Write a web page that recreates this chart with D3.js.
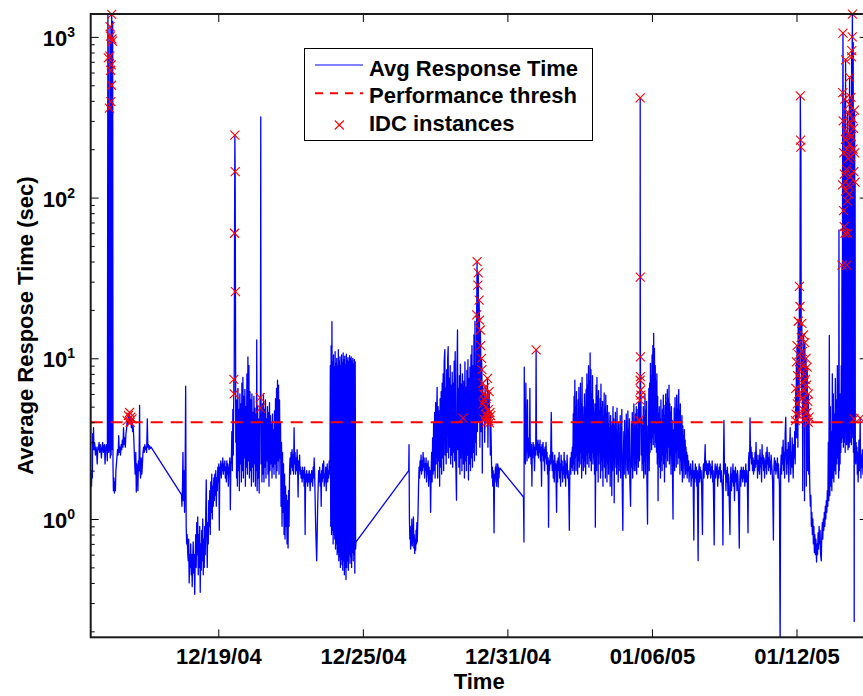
<!DOCTYPE html>
<html>
<head>
<meta charset="utf-8">
<script src="https://cdn.jsdelivr.net/npm/d3@7"></script>
<style>
  html, body { margin: 0; padding: 0; background: #fff; }
  svg { display: block; }
  text { font-family: "Liberation Sans", Arial, Helvetica, sans-serif; font-weight: bold; fill: #000; }
</style>
</head>
<body>
<svg id="chart" width="863" height="696"></svg>
<script>
// Time is stored as hours since 2004-12-13 00:00, response times in seconds.
const startDate = new Date(2004, 11, 13, 0, 0, 0);
const xDomainHours = [16.89, 790.93];
const yDomain = [0.1836, 1388];
const threshold = 4;
const xTickDates = ["2004-12-19", "2004-12-25", "2004-12-31", "2005-01-06", "2005-01-12"];
const xTickLabels = ["12/19/04", "12/25/04", "12/31/04", "01/06/05", "01/12/05"];
const yTickValues = [1, 10, 100, 1000];
const yTickExponents = ["0", "1", "2", "3"];
const legendLabels = ["Avg Response Time", "Performance thresh", "IDC instances"];
const xAxisTitle = "Time";
const yAxisTitle = "Average Respose Time (sec)";

// [hour, seconds]
const avgResponse = [
  [16.9,1.7],[17.3,1.9],[17.7,1.6],[18.1,2.0],[18.5,1.8],[18.9,3.4],[19.3,2.8],[19.7,3.7],[20.1,2.7],[20.6,3.0],
  [21.0,2.9],[21.6,2.5],[22.2,2.8],[22.8,2.6],[23.4,2.2],[24.0,2.8],[24.6,2.7],[25.2,3.0],[25.8,2.6],[26.4,2.9],
  [27.0,2.7],[27.6,2.4],[28.2,2.8],[28.8,3.0],[29.4,2.6],[30.0,2.8],[30.6,2.9],[31.2,2.2],[31.8,2.7],[32.4,2.9],
  [33.0,2.7],[33.5,2.3],[34.0,1380],[34.4,740],[34.8,2.6],[35.2,2.7],[35.6,360],[35.8,2.8],[36.0,760],[36.2,1160],
  [36.4,2.4],[36.6,1010],[36.8,620],[37.0,395],[37.2,2.5],[37.4,670],[37.6,500],[37.8,1380],[38.0,970],[38.2,2.7],
  [38.5,940],[38.8,1250],[39.1,2.2],[39.5,1.5],[40.0,1.8],[40.5,1.45],[41.0,1.7],[41.5,1.5],[42.0,2.0],[43.0,2.4],
  [43.6,2.7],[44.2,2.5],[44.8,3.3],[45.4,2.6],[46.0,2.8],[46.6,2.5],[47.2,2.9],[47.8,2.7],[48.4,3.1],[49.0,2.8],
  [49.6,3.7],[50.2,2.9],[50.8,3.2],[51.4,2.8],[52.0,3.4],[52.6,3.6],[53.2,4.1],[53.8,3.8],[54.4,4.4],[55.0,3.9],
  [55.6,4.6],[56.2,4.0],[56.8,4.3],[57.4,3.7],[58.0,4.2],[58.6,3.5],[59.2,3.8],[59.8,3.2],[60.5,2.4],[61.2,1.9],
  [61.8,2.6],[62.3,1.47],[62.8,2.2],[63.4,1.9],[63.9,1.5],[64.4,2.3],[65.0,2.0],[65.6,5.1],[66.0,2.1],[66.6,1.8],
  [67.2,2.4],[67.8,1.9],[68.4,2.2],[69.0,2.6],[69.6,2.8],[70.2,2.6],[70.8,2.9],[71.4,2.7],[72.0,2.8],[72.6,2.6],
  [73.3,4.2],[73.8,2.8],[74.4,2.9],[75.0,2.7],[75.6,2.85],[76.2,2.75],[77.0,2.8],
  [107.3,1.42],[107.8,1.2],[108.3,1.6],[108.8,2.6],[109.3,1.3],[109.8,2.0],[110.4,1.1],[111.0,2.2],[111.5,6.7],[112.0,0.9],
  [112.5,0.7],[113.0,0.8],[113.5,0.62],[114.0,0.55],[114.5,0.75],[115.0,0.4],[115.5,0.6],[116.0,0.5],[116.5,0.7],[117.0,0.45],
  [117.5,0.6],[118.0,0.38],[118.5,0.55],[119.0,0.72],[119.5,0.46],[120.0,0.6],[120.5,0.34],[121.0,0.55],[121.5,0.8],[122.0,0.5],
  [122.5,0.95],[123.0,0.6],[123.5,1.03],[124.0,0.45],[124.5,0.8],[125.0,0.5],[125.5,0.9],[126.0,0.35],[126.5,0.7],[127.0,0.48],
  [127.5,0.85],[128.0,0.55],[128.5,1.0],[129.0,0.45],[129.5,0.75],[130.0,0.5],[130.5,0.9],[131.0,0.6],[131.5,1.1],[132.0,1.75],
  [132.5,0.8],[133.0,0.5],[133.5,0.95],[134.0,0.7],[134.5,1.3],[135.0,0.9],[135.5,1.5],[136.0,0.8],[136.5,1.7],[137.0,1.1],
  [137.5,1.9],[138.0,1.0],[138.5,1.6],[139.0,1.2],[139.5,1.8],[140.0,1.3],[140.5,1.9],[141.0,1.4],[141.5,2.0],[142.0,1.2],
  [142.5,1.8],[143.0,1.5],[143.5,2.1],[144.0,1.7],[144.5,2.2],[145.0,0.85],[145.5,2.1],[146.0,1.9],[146.5,2.3],[147.0,1.8],
  [147.5,2.2],[148.0,2.0],[148.5,2.4],[149.0,1.9],[149.5,2.2],[150.0,2.0],[150.5,2.3],[151.0,1.8],[151.5,2.1],[152.0,1.7],
  [152.5,2.3],[153.0,1.9],[153.5,2.2],[154.0,1.6],[154.5,2.1],[155.0,2.0],[155.5,2.4],[156.0,1.14],[156.5,2.2],
  [157.0,2.3],[157.5,3.5],[158.0,2.0],[158.5,4.8],[159.0,2.5],[159.5,7.4],[159.8,6.0],[160.2,60],[160.5,245],[160.8,145],
  [161.1,26],[161.4,3.0],[161.8,5.5],[162.2,1.8],
  [162.6,5.5],[163.0,1.6],[163.5,6.5],[164.0,2.0],[164.5,4.8],[165.0,1.5],[165.5,6.0],[166.0,2.2],[166.5,5.2],[167.0,1.7],
  [167.5,7.0],[168.0,2.0],[168.5,7.6],[169.0,1.8],[169.5,5.8],[170.0,2.4],[170.5,6.4],[171.0,1.6],[171.5,5.0],[172.0,2.1],
  [172.5,8.0],[173.0,1.9],[173.5,10.2],[174.0,2.3],[174.5,9.0],[175.0,1.8],[175.5,6.2],[176.0,2.0],[176.5,5.5],[177.0,1.6],
  [177.5,6.0],[178.0,2.1],[178.5,4.6],[179.0,1.7],[179.5,5.8],[180.0,2.2],[180.5,4.9],[181.0,1.6],[181.5,4.5],[182.0,2.0],
  [182.3,13],[182.7,1.5],[183.2,5.0],[183.7,1.8],[184.2,4.2],[184.7,1.45],[185.2,3.8],[185.7,5.7],[186.0,4.9],[186.3,318],
  [186.6,2.2],[187.0,4.5],[187.5,1.7],[188.0,5.2],[188.5,1.9],[189.0,6.0],[189.5,1.7],[190.0,4.8],[190.5,2.1],[191.0,5.5],
  [191.5,1.8],[192.0,4.2],[192.5,2.3],[193.0,5.0],[193.5,1.9],[194.0,4.6],[194.5,1.6],[195.0,5.3],[195.5,2.0],[196.0,4.4],
  [196.5,2.2],[197.0,3.9],[197.5,1.8],[198.0,4.5],[198.5,2.1],[199.0,3.6],[199.5,1.9],[200.0,4.7],[200.5,2.2],[201.0,5.6],
  [201.5,1.8],[202.0,6.5],[202.5,2.0],[203.0,7.3],[203.5,2.3],[204.0,6.8],[204.5,1.9],[205.0,5.5],[205.5,2.4],[206.0,4.0],
  [206.5,1.2],[207.0,3.0],[207.5,0.9],[208.0,2.6],[208.5,1.1],[209.0,2.2],[209.5,0.8],[210.0,1.9],[210.5,0.75],[211.0,1.6],
  [211.5,0.9],[212.0,1.4],[212.5,0.7],[213.0,1.3],[213.5,0.66],[214.0,1.5],[214.5,0.9],[215.0,2.0],[215.5,2.4],[216.0,1.9],
  [216.5,2.6],[217.0,2.1],[217.5,2.7],[218.0,2.0],[218.5,2.5],[219.0,1.9],[219.5,3.7],[220.0,2.2],[220.5,2.6],[221.0,1.9],
  [221.5,2.4],[222.0,2.0],[222.5,2.7],[223.0,2.1],[223.5,1.37],[224.0,2.3],[224.5,2.0],[225.0,2.5],[225.5,1.9],[226.0,2.1],
  [226.5,1.8],[227.0,2.0],[227.5,1.7],[228.0,2.1],[228.5,1.8],[229.0,2.0],[229.5,1.6],[230.0,2.1],[230.5,0.8],[231.0,1.9],
  [231.5,1.7],[232.0,2.0],[232.5,1.8],[233.0,1.6],[233.5,1.9],[234.0,1.7],[234.5,2.0],[235.0,1.8],[235.5,1.5],[236.0,1.9],
  [236.5,1.7],[237.0,2.0],[237.5,1.8],[238.0,1.6],[238.5,2.1],[239.0,1.8],[239.5,2.4],[240.0,1.9],[240.5,1.3],[241.0,0.9],
  [241.5,0.7],[242.0,0.55],[242.5,0.8],[243.0,1.2],[243.5,1.6],[244.0,2.0],[244.5,1.7],[245.0,2.1],[245.5,1.6],[246.0,1.9],
  [246.5,1.2],[247.0,2.0],[247.5,1.7],[248.0,2.2],[248.5,1.8],[249.0,2.3],[249.5,1.6],[250.0,1.9],[250.5,1.7],[251.0,2.1],
  [251.5,1.5],[252.0,1.9],[252.5,2.2],[253.0,1.7],[253.5,2.0],[254.0,1.8],[254.5,2.3],[255.0,1.9],
  [255.2,2.0],[255.6,9.0],[256.0,0.9],[256.4,12],[256.8,0.8],[257.2,16.9],[257.6,0.85],[258.0,9.5],[258.4,0.7],[258.8,10.5],
  [259.2,0.8],[259.6,8.8],[260.0,0.75],[260.4,11],[260.8,0.65],[261.2,9.3],[261.6,0.7],[262.0,10],[262.4,0.6],[262.8,8.9],
  [263.2,0.62],[263.6,11.3],[264.0,0.55],[264.4,9.6],[264.8,0.58],[265.2,10.2],[265.6,0.5],[266.0,9.0],[266.4,0.56],[266.8,10.5],
  [267.2,0.52],[267.6,9.4],[268.0,0.48],[268.4,10.8],[268.8,0.55],[269.2,9.8],[269.6,0.45],[270.0,10.3],[270.4,0.5],[270.8,9.1],
  [271.2,0.42],[271.6,10.6],[272.0,0.5],[272.4,9.7],[272.8,0.55],[273.2,10.1],[273.6,0.48],[274.0,9.5],[274.4,0.6],[274.8,10.4],
  [275.2,0.53],[275.6,9.9],[276.0,0.58],[276.4,10.2],[276.8,0.5],[277.2,9.6],[277.6,0.62],[278.0,10],[278.4,0.55],[278.8,9.2],
  [279.2,0.6],[279.6,9.8],[280.0,0.46],[280.4,9.5],[280.8,0.65],[281.2,0.72],
  [333.7,2.0],[334.0,2.9],[334.4,1.0],[334.8,0.75],[335.2,0.9],[335.6,0.65],[336.0,0.85],[336.4,0.7],[336.8,1.0],[337.2,0.68],
  [337.6,0.9],[338.0,0.72],[338.4,1.03],[338.8,0.66],[339.2,0.8],[339.7,0.61],[340.2,0.75],[340.6,0.64],[341.0,0.85],[341.4,0.7],
  [341.8,0.95],[342.2,0.72],[342.6,0.9],[343.0,1.1],[343.5,1.6],[344.0,2.1],[344.5,1.8],[345.0,2.3],[345.5,2.0],[346.0,2.5],
  [346.5,1.9],[347.0,2.3],[347.5,2.0],[348.0,2.6],[348.5,2.1],[349.0,2.4],[349.5,1.8],[350.0,2.2],[350.5,2.0],[351.0,2.4],
  [351.5,1.7],[352.0,2.2],[352.5,1.9],[353.0,2.3],[353.5,1.6],[354.0,2.1],[354.5,1.8],[355.0,2.0],[355.5,1.1],[356.0,1.9],
  [356.5,2.6],[357.0,1.7],[357.5,3.2],[358.0,1.9],[358.5,4.0],[359.0,2.0],[359.5,4.6],[360.0,1.8],[360.5,5.3],[361.0,2.2],
  [361.5,4.4],[362.0,6.6],[362.5,1.8],[363.0,5.0],[363.5,2.3],[364.0,4.7],[364.5,1.6],[365.0,5.6],[365.5,2.1],[366.0,6.2],
  [366.5,1.9],[367.0,7.0],[367.5,2.4],[368.0,8.0],[368.5,2.0],[369.0,9.5],[369.7,11.3],[370.0,2.5],[370.5,6.5],[371.0,2.2],
  [371.5,8.5],[372.0,2.6],[372.5,10],[373.0,11.8],[373.5,2.4],[374.0,7.5],[374.5,2.8],[375.0,9.0],[375.5,2.2],[376.0,6.8],
  [376.5,2.5],[377.0,8.2],[377.5,2.1],[378.0,7.0],[378.5,2.6],[379.0,9.6],[379.5,2.3],[380.0,11],[380.5,2.4],[381.3,1.31],
  [381.8,8.5],[382.3,15],[382.7,2.7],[383.2,6.5],[383.7,2.1],[384.2,7.8],[384.7,1.9],[385.2,9.2],[385.7,2.4],[386.2,6.9],
  [386.7,2.0],[387.2,8.0],[387.7,4.25],[388.2,2.2],[388.7,7.2],[389.2,1.8],[389.7,9.5],[390.2,2.3],[390.7,6.6],[391.2,2.0],
  [391.7,8.4],[392.2,2.5],[392.7,9.8],[393.2,1.75],[393.7,7.5],[394.2,2.2],[394.7,8.8],[395.2,2.0],[395.7,10.5],[396.2,2.4],
  [396.7,12],[397.2,2.1],[397.7,9.0],[398.2,2.6],[398.7,14],[399.2,2.3],[399.7,17],
  [400.2,3.0],[400.6,9],[401.0,2.5],[401.4,18.6],[401.8,40],[402.2,3.5],[402.6,28.5],[403.0,34],[403.4,4.0],[403.8,23],
  [404.2,17.3],[404.6,2.8],[405.0,15],[405.4,12],[405.8,3.5],[406.2,10],[406.6,8.5],[407.0,1.93],[407.4,7],[407.8,5.2],
  [408.2,6.0],[408.6,4.2],[409.0,5.5],[409.4,3.0],[409.8,6.6],[410.2,4.5],[410.6,5.0],[411.0,4.0],[411.4,5.8],[411.8,4.3],
  [412.2,7.5],[412.6,2.8],[413.0,4.8],[413.4,4.1],[413.8,6.2],[414.2,3.96],[414.6,4.6],[415.0,2.5],[415.4,4.4],[415.8,3.1],
  [416.2,2.2],[416.6,1.8],[417.0,2.1],[417.4,1.6],[417.8,2.0],[418.2,1.7],[418.7,0.82],[419.2,1.9],[419.6,1.7],[420.0,2.1],
  [420.4,1.8],[420.8,2.2],[421.2,1.6],[421.6,2.0],[422.0,1.9],[422.4,2.2],[422.8,1.58],[423.2,2.1],[423.6,1.8],[424.0,2.0],
  [424.7,2.07],
  [448.0,1.37],[448.5,0.72],[448.8,8.8],[449.2,2.5],[449.6,3.0],[450.0,2.2],[450.4,7.0],[450.8,2.6],[451.2,3.1],[451.6,2.3],
  [452.0,5.5],[452.4,2.8],[452.8,3.0],[453.2,2.4],[453.6,3.2],[454.0,2.5],[454.4,6.5],[454.8,2.45],[455.2,3.0],[455.6,2.2],
  [456.0,2.9],[456.4,1.6],[456.8,2.7],[457.2,2.4],[457.6,3.0],[458.0,2.6],[458.4,2.9],[459.0,2.0],[459.6,2.8],[460.2,2.5],
  [460.6,11.3],[461.0,2.7],[461.5,3.0],[462.0,2.5],[462.5,3.1],[463.0,2.4],[463.5,2.9],[464.0,2.6],[464.5,3.1],[465.0,2.3],
  [465.5,2.8],[466.0,1.6],[466.5,2.9],[467.0,2.5],[467.5,3.0],[468.0,2.3],[468.5,2.7],[469.0,2.0],[469.5,2.8],[470.0,2.4],
  [470.5,3.0],[471.0,2.2],[471.5,2.6],[472.0,1.9],[472.5,2.4],[473.0,0.89],[473.5,2.3],[474.0,2.0],[474.5,2.5],[475.0,2.2],
  [475.7,4.6],[476.2,2.4],[476.7,2.0],[477.2,2.6],[477.7,1.8],[478.2,2.3],[478.7,1.7],[479.2,2.5],[479.7,2.0],[480.2,2.2],
  [481.0,1.1],[481.5,2.3],[482.0,1.7],[482.5,2.4],[483.0,2.0],[483.5,2.6],[484.0,1.8],[484.5,2.2],[485.0,1.6],[485.5,2.5],
  [486.0,2.0],[486.5,2.3],[487.0,1.7],[487.5,2.1],[488.0,1.9],[488.5,2.6],[489.0,1.8],[489.5,2.3],[490.0,1.6],[490.5,2.2],
  [491.0,1.9],[491.5,2.5],[492.0,1.8],[492.5,2.0],[493.0,1.7],[493.7,0.85],[494.2,2.0],[494.7,2.4],[495.2,1.9],[495.7,2.6],
  [496.2,2.1],[496.7,2.8],
  [497.2,2.0],[497.6,4.5],[498.0,2.2],[498.4,5.8],[498.8,1.9],[499.2,7.3],[499.6,2.4],[500.0,5.0],[500.4,2.0],[500.8,6.2],
  [501.2,2.5],[501.6,4.2],[502.0,1.9],[502.4,5.5],[502.8,2.3],[503.2,6.6],[503.6,2.1],[504.0,4.8],[504.4,2.6],[504.8,7.0],
  [505.2,2.2],[505.6,5.2],[506.0,1.8],[506.4,7.6],[506.8,2.4],[507.2,5.0],[507.6,2.0],[508.0,4.4],[508.4,2.3],[508.8,6.0],
  [509.2,2.1],[509.6,4.9],[510.0,1.9],[510.4,6.4],[510.8,2.5],[511.2,8.0],[511.6,2.2],[512.0,6.8],[512.4,2.6],[512.8,9.0],
  [513.2,2.1],[513.6,7.2],[514.0,2.4],[514.4,10.8],[514.8,2.3],[515.2,8.5],[515.6,2.0],[516.0,6.0],[516.4,2.6],[516.8,7.8],
  [517.2,2.2],[517.6,5.5],[518.0,2.4],[518.4,4.6],[518.8,1.9],[519.2,5.2],[519.6,0.89],[520.0,2.3],[520.4,6.8],[520.8,2.0],
  [521.2,7.6],[521.6,2.5],[522.0,5.8],[522.4,1.7],[522.8,6.3],[523.2,2.2],[523.6,4.7],[524.0,2.6],[524.4,5.6],[524.8,1.8],
  [525.2,6.9],[525.6,2.3],[526.0,4.9],[526.4,2.0],[526.8,5.4],[527.2,1.6],[527.6,4.3],[528.0,2.4],[528.4,6.1],[528.8,2.1],
  [529.2,4.8],[529.6,1.8],[530.0,5.9],[530.4,2.3],[530.8,4.5],[531.2,1.7],[531.6,5.1],[532.0,2.2],[532.4,3.9],[532.8,1.9],
  [533.2,4.6],[533.6,2.5],[534.0,3.7],[534.4,1.6],[534.8,4.4],[535.2,2.1],[535.6,3.8],[536.0,1.4],[536.4,4.0],
  [536.8,2.0],[537.2,5.0],[537.6,2.3],[538.0,4.2],[538.4,1.26],[538.8,3.8],[539.2,2.1],[539.6,4.6],[540.0,2.4],[540.4,3.6],
  [540.8,1.9],[541.2,4.9],[541.6,2.2],[542.0,3.4],[542.4,1.7],[542.8,4.0],[543.2,2.5],[543.6,3.2],[544.0,2.0],[544.4,4.4],
  [544.8,1.8],[545.2,3.7],[545.6,2.3],[546.0,4.8],[546.4,1.6],[547.0,0.85],[547.5,2.4],[548.0,3.5],[548.4,1.9],[548.8,4.1],
  [549.2,2.2],[549.6,3.3],[550.0,1.8],[550.4,4.5],[550.8,2.6],[551.2,3.0],[551.6,2.0],[552.0,4.7],[552.4,1.9],[552.8,3.6],
  [553.2,2.3],[553.6,4.2],[554.0,1.7],[554.7,1.2],[555.2,2.4],[555.6,3.9],[556.0,2.1],[556.4,4.6],[556.8,1.8],[557.2,3.4],
  [557.6,2.5],[558.0,5.2],[558.4,2.0],[558.8,4.0],
  [559.2,2.2],[559.6,4.5],[560.0,2.0],[560.4,5.0],[560.8,1.9],[561.2,3.6],[561.6,2.4],[562.0,4.8],[562.4,2.1],[562.8,5.3],
  [563.2,4.13],[563.6,2.3],[564.0,5.5],[564.2,7.3],[564.3,417],[564.4,32],[564.5,10.2],[564.6,7.7],[564.8,6.35],[565.0,5.9],
  [565.4,2.5],[565.8,4.2],[566.2,2.0],[566.6,3.8],
  [567.0,2.2],[567.4,5.0],[567.8,1.8],[568.2,4.4],[568.6,2.3],[569.0,6.0],[569.4,1.9],[569.8,4.7],[570.2,2.5],[570.6,5.4],
  [571.0,1.7],[571.6,0.93],[572.1,3.8],[572.5,2.4],[572.9,6.5],[573.3,2.0],[573.7,7.0],[574.1,2.6],[574.5,9.3],[574.9,3.0],
  [575.3,7.8],[575.7,2.7],[576.1,10.5],[576.5,3.2],[576.9,12],[577.3,2.9],[577.7,14.3],[578.1,3.4],[578.5,11.5],[578.9,2.8],
  [579.3,9.0],[579.7,3.0],[580.1,7.2],[580.5,2.6],[580.9,8.0],[581.3,2.2],[581.7,5.8],[582.1,1.3],[582.5,4.5],[582.9,2.4],
  [583.3,5.0],[583.7,2.1],[584.1,4.2],[584.5,1.8],[584.9,5.5],[585.3,2.3],[585.7,3.9],[586.1,2.0],[586.5,4.8],[586.9,2.5],
  [587.3,5.9],[587.7,2.2],[588.1,4.4],[588.5,1.7],[588.9,5.1],[589.3,2.4],[589.7,6.0],[590.1,2.1],[590.5,5.3],[590.9,2.6],
  [591.3,6.4],[591.7,2.3],[592.1,5.6],[592.5,2.8],[593.0,6.8],[593.4,2.2],[593.8,5.2],[594.2,2.5],[594.6,4.6],[595.0,1.9],
  [595.4,5.0],[595.8,2.4],[596.2,4.1],[596.6,1.6],[597.0,1.0],[597.4,3.6],[597.8,2.3],[598.2,4.9],[598.6,2.0],[599.0,5.7],
  [599.4,2.6],[599.8,4.5],[600.2,2.1],[600.6,5.9],[601.0,2.7],[601.4,4.8],[601.8,2.2],[602.2,5.5],[602.7,6.4],[603.1,2.4],
  [603.5,4.7],[603.9,1.9],[604.3,5.2],[604.7,2.3],[605.1,3.9],[605.5,2.0],[605.9,4.4],[606.3,1.7],[606.7,3.8],[607.1,2.5],
  [607.5,3.3],[607.9,1.8],[608.3,3.6],[608.7,2.2],[609.1,3.1],[609.5,1.9],[609.9,2.8],[610.3,2.0],[610.7,2.6],[611.1,1.8],
  [611.5,2.5],
  [612.0,2.0],[612.5,2.3],[613.0,1.7],[613.5,2.1],[614.0,1.9],[614.5,2.2],[615.0,1.6],[615.5,2.0],[616.0,1.8],[616.5,2.3],
  [617.0,1.9],[617.7,0.74],[618.2,2.0],[618.7,1.7],[619.2,2.2],[619.7,1.8],[620.2,2.1],[620.7,1.6],[621.2,2.0],[622.0,0.55],
  [622.5,1.9],[623.0,2.2],[623.5,1.7],[624.0,2.1],[624.5,1.8],[625.0,2.0],[625.5,1.6],[626.3,0.8],[626.8,1.9],[627.3,2.2],
  [627.8,1.8],[628.3,2.1],[629.0,2.9],[629.5,2.0],[630.0,2.3],[630.5,1.9],[631.0,2.2],[631.5,1.8],
  [632.0,2.2],[632.5,1.9],[633.0,2.3],[633.5,2.0],[634.0,2.2],[634.5,1.8],[635.0,2.1],[635.5,1.9],[636.0,2.3],[636.5,1.7],
  [637.0,2.0],[638.0,0.69],[638.5,1.9],[639.0,2.2],[639.5,1.8],[640.0,2.1],[640.5,1.9],[641.0,2.2],[641.5,1.6],[642.0,2.0],
  [642.5,1.8],[643.0,2.1],[643.5,1.9],[644.0,2.2],[644.5,1.7],[645.0,2.0],[645.5,1.8],[646.2,1.5],[646.7,0.69],[647.2,2.0],
  [647.7,4.1],[648.2,2.2],
  [648.7,1.9],[649.2,2.2],[649.7,1.5],[650.2,2.0],[650.7,1.7],[651.2,2.1],[651.7,1.4],[652.2,1.9],[652.7,1.6],[653.7,0.8],
  [654.2,1.8],[654.7,2.1],[655.2,1.5],[655.7,1.9],[656.2,1.7],[656.7,2.2],[657.2,1.6],[657.7,2.0],[658.2,1.3],[658.7,1.8],
  [659.2,2.1],[659.7,1.7],[660.2,1.9],[660.7,1.5],[661.2,2.0],[661.7,1.8],[662.2,1.4],[663.0,0.66],[663.5,1.7],[664.0,2.0],
  [664.5,1.6],[665.0,2.1],[665.5,1.8],[666.0,2.0],
  [666.5,1.7],[667.0,2.1],[667.5,1.8],[668.0,2.0],[668.5,1.6],[669.0,1.9],[669.5,2.2],[670.0,1.7],[670.5,2.0],[671.0,1.8],
  [671.7,0.82],[672.2,2.3],[672.7,2.6],[673.2,2.0],[673.7,4.25],[674.2,2.4],[674.7,2.8],[675.2,2.2],[675.7,2.6],[676.2,2.0],
  [676.7,2.4],[677.2,1.9],[677.7,2.3],[678.2,2.0],[678.7,2.6],[679.2,2.1],[679.7,3.0],[680.2,2.2],[680.7,2.5],[681.2,1.8],
  [681.7,2.3],[682.2,2.0],[682.7,2.5],[683.2,1.9],[683.7,2.7],[684.2,2.1],[684.7,2.4],[685.2,1.7],[685.7,2.9],[686.2,2.2],
  [686.7,2.5],[687.2,2.0],[687.7,2.4],[688.2,1.8],[688.7,2.3],[689.2,2.1],[689.7,2.6],[690.2,1.9],[690.7,2.8],[691.2,2.2],
  [691.7,2.4],[692.2,2.0],[692.7,2.6],[693.2,2.1],[693.7,2.3],[694.2,1.9],[694.7,2.5],[695.2,2.2],[695.7,2.0],[696.2,1.7],
  [697.0,0.74],[697.5,2.1],[698.0,2.4],[698.5,2.0],[699.0,2.3],[699.5,1.9],[700.0,2.2],[700.5,2.0],[701.0,2.4],[701.5,1.8],
  [702.0,2.2],[702.5,1.9],[703.0,1.6],[703.7,0.15],[704.2,2.0],[704.7,2.5],[705.2,1.9],[705.7,2.8],[706.2,2.2],[706.7,3.1],
  [707.2,2.0],[707.7,2.6],[708.2,1.8],[708.7,3.4],[709.3,4.3],[709.8,2.4],[710.3,1.9],[710.8,2.7],[711.3,2.2],[711.8,3.0],
  [712.3,1.7],[712.8,2.5],[713.3,2.9],[713.7,3.7],[714.2,1.9],[714.7,2.6],[715.2,2.1],[715.7,3.2],[716.2,2.3],[716.7,1.8],
  [717.2,2.9],[717.7,2.4],[718.2,3.5],[718.7,2.2],
  [719.0,4.1],[719.3,6.5],[719.6,4.5],[719.9,9.5],[720.2,3.2],[720.5,12],[720.8,5.2],[721.1,7.8],[721.4,2.8],[721.7,17],
  [722.0,6.0],[722.3,10.5],[722.6,4.4],[722.9,28],[723.2,8.5],[723.5,21],[723.8,429],[724.1,228],[724.4,206],[724.7,13.5],
  [725.0,5.6],[725.3,16.5],[725.6,7.0],[725.9,11],[726.2,1.5],[726.5,9.0],[726.8,4.8],[727.1,14],[727.4,6.3],[727.7,8.0],
  [728.0,1.3],[728.3,12.5],[728.6,5.0],[728.9,7.4],[729.2,4.2],[729.5,10],[729.8,1.6],[730.1,6.8],[730.4,4.6],[730.7,8.8],
  [731.0,2.0],[731.3,5.4],[731.6,4.0],[731.9,6.0],[732.2,1.9],[732.5,4.3],[732.8,2.4],
  [733.3,1.5],[733.8,1.2],[734.3,1.4],[734.8,0.9],[735.3,1.1],[735.8,0.8],[736.3,1.0],[736.8,0.7],[737.3,0.9],[737.8,0.62],
  [738.3,0.8],[738.8,0.6],[739.3,0.75],[740.0,0.54],[740.5,0.7],[741.0,0.6],[741.5,0.82],[742.0,0.65],[742.5,0.9],[743.0,0.7],
  [743.5,0.85],[744.0,0.6],[744.7,0.55],[745.2,0.8],[745.7,0.95],[746.2,0.75],[746.7,1.0],[747.2,0.85],[747.7,1.1],[748.2,0.9],
  [748.7,1.2],[749.2,1.0],[749.7,1.3],
  [750.2,1.1],[750.7,1.5],[751.2,1.2],[751.7,3.0],[752.2,1.3],[752.7,13.9],[753.2,1.4],[753.7,5.0],[754.2,1.6],[754.7,3.5],
  [755.2,1.5],[755.7,8.0],[756.2,1.8],[756.7,6.0],[757.2,1.7],[757.7,4.5],[758.2,2.0],[758.7,7.5],[759.2,1.9],[759.7,5.5],
  [760.2,2.2],[760.7,9.0],[761.2,2.4],
  [761.7,3.0],[762.0,1.8],[762.3,63],[762.6,2.0],[763.0,4.5],[763.4,2.2],[763.8,6.0],[764.2,2.6],[764.6,9.0],[765.0,3.0],
  [765.3,38],[765.6,3.2],[765.9,120],[766.1,450],[766.3,1055],[766.5,300],[766.7,2.8],[766.9,83],[767.1,190],[767.3,3.5],
  [767.5,66],[767.7,140],[767.9,3.0],[768.1,410],[768.3,60],[768.5,2.6],[768.7,230],[768.9,720],[769.1,110],[769.3,3.4],
  [769.5,260],[769.7,150],[769.9,2.9],[770.1,38],[770.3,200],[770.5,3.1],[770.7,95],[770.9,340],[771.1,60],[771.3,2.7],
  [771.5,175],[771.7,120],[771.9,3.3],[772.1,250],[772.3,105],[772.5,2.8],[772.7,380],[772.9,560],[773.1,215],[773.3,3.0],
  [773.5,135],[773.7,290],[773.9,3.6],[774.1,180],[774.3,420],[774.5,240],[774.7,2.9],[774.9,750],[775.1,820],[775.3,3.2],
  [775.5,1000],[775.7,1385],[775.9,310],[776.1,3.4],[776.3,200],[776.5,920],[776.7,2.6],[776.9,270],[777.1,145],[777.3,4.2],
  [777.5,0.23],[777.8,350],[778.0,190],[778.2,3.0],[778.4,125],[778.6,2.5],[779.0,2.2],[779.4,3.0],[779.8,2.4],[780.2,2.8],
  [780.6,1.9],[781.0,2.6],[781.4,1.7],[781.8,2.2],[782.2,3.1],[782.6,2.0],[783.0,2.5],[783.4,4.25],[783.8,2.3],[784.2,1.8],
  [784.6,2.5],[785.0,2.1],[785.6,2.7],[786.2,1.9],[786.8,2.4],[787.4,2.0],[788.0,2.6],[788.6,1.8],[789.2,2.3],[789.8,2.1],
  [790.4,2.5],[791.0,2.2]
];

// [hour, seconds] of the flagged samples
const idcInstances = [
  [34.4,740],[35.6,360],[36.0,760],[36.2,1160],[36.6,1010],[36.8,620],[37.0,395],[37.4,670],[37.6,500],[37.8,1380],
  [38.0,970],[38.5,940],
  [53.2,4.1],[54.4,4.4],[55.6,4.6],[56.2,4.0],[56.8,4.3],[58.0,4.2],
  [159.5,7.4],[159.8,6.0],[160.2,60],[160.5,245],[160.8,145],[161.1,26],[185.7,5.7],[186.0,4.9],
  [387.7,4.25],[401.4,18.6],[401.8,40],[402.6,28.5],[403.0,34],[403.8,23],[404.2,17.3],[405.0,15],[405.4,12],[406.2,10],
  [406.6,8.5],[407.4,7],[407.8,5.2],[408.2,6.0],[408.6,4.2],[409.0,5.5],[409.8,6.6],[410.2,4.5],[410.6,5.0],[411.0,4.0],
  [411.4,5.8],[411.8,4.3],[412.2,7.5],[413.0,4.8],[413.4,4.1],[413.8,6.2],[414.2,3.96],[414.6,4.6],[415.4,4.4],
  [460.6,11.3],
  [563.2,4.13],[564.0,5.5],[564.2,7.3],[564.3,417],[564.4,32],[564.5,10.2],[564.6,7.7],[564.8,6.35],[565.0,5.9],
  [719.0,4.1],[719.3,6.5],[719.6,4.5],[719.9,9.5],[720.5,12],[720.8,5.2],[721.1,7.8],[721.7,17],[722.0,6.0],[722.3,10.5],
  [722.6,4.4],[722.9,28],[723.2,8.5],[723.5,21],[723.8,429],[724.1,228],[724.4,206],[724.7,13.5],[725.0,5.6],[725.3,16.5],
  [725.6,7.0],[725.9,11],[726.5,9.0],[726.8,4.8],[727.1,14],[727.4,6.3],[727.7,8.0],[728.3,12.5],[728.6,5.0],[728.9,7.4],
  [729.2,4.2],[729.5,10],[730.1,6.8],[730.4,4.6],[730.7,8.8],[731.3,5.4],[731.6,4.0],[731.9,6.0],[732.5,4.3],
  [765.3,38],[765.9,120],[766.1,450],[766.3,1055],[766.5,300],[766.9,83],[767.1,190],[767.5,66],[767.7,140],[768.1,410],
  [768.3,60],[768.7,230],[768.9,720],[769.1,110],[769.5,260],[769.7,150],[770.1,38],[770.3,200],[770.7,95],[770.9,340],
  [771.1,60],[771.5,175],[771.7,120],[772.1,250],[772.3,105],[772.7,380],[772.9,560],[773.1,215],[773.5,135],[773.7,290],
  [774.1,180],[774.3,420],[774.5,240],[774.9,750],[775.1,820],[775.5,1000],[775.7,1385],[775.9,310],[776.3,200],[776.9,270],
  [777.1,145],[777.3,4.2],[777.8,350],[778.0,190],[778.4,125],[783.4,4.25]
];

// ---- layout ----
const plot = { left: 90.7, right: 867.7, top: 14, bottom: 637.3 };
const hourToDate = h => new Date(startDate.getTime() + h * 3600000);
const parseDay = d3.timeParse("%Y-%m-%d");

const svg = d3.select("#chart");

const x = d3.scaleTime()
  .domain(xDomainHours.map(hourToDate))
  .range([plot.left, plot.right]);
const y = d3.scaleLog()
  .domain(yDomain)
  .range([plot.bottom, plot.top]);

svg.append("defs").append("clipPath").attr("id", "plotClip")
  .append("rect")
  .attr("x", plot.left).attr("y", plot.top)
  .attr("width", plot.right - plot.left).attr("height", plot.bottom - plot.top);

// response time trace
const line = d3.line()
  .x(d => x(hourToDate(d[0])))
  .y(d => y(d[1]));

svg.append("path")
  .datum(avgResponse)
  .attr("clip-path", "url(#plotClip)")
  .attr("fill", "none")
  .attr("stroke", "#0000ff")
  .attr("stroke-width", 1.3)
  .attr("stroke-linejoin", "round")
  .attr("d", line);

// performance threshold
svg.append("path")
  .datum([[xDomainHours[0], threshold], [xDomainHours[1], threshold]])
  .attr("fill", "none")
  .attr("stroke", "#ff0000")
  .attr("stroke-width", 2)
  .attr("stroke-dasharray", "12,8")
  .attr("d", line);

// IDC markers
const crossPath = "M-4.5,-4.5L4.5,4.5M-4.5,4.5L4.5,-4.5";
svg.append("g")
  .selectAll("path")
  .data(idcInstances)
  .join("path")
  .attr("transform", d => `translate(${x(hourToDate(d[0]))},${y(d[1])})`)
  .attr("d", crossPath)
  .attr("fill", "none")
  .attr("stroke", "#ff0000")
  .attr("stroke-width", 1.1);

// ---- axes ----
const tickDates = xTickDates.map(parseDay);
const minorTicks = [];
for (let e = -1; e <= 3; e++) {
  for (let m = 2; m <= 9; m++) {
    const v = m * Math.pow(10, e);
    if (v >= yDomain[0] && v <= yDomain[1]) minorTicks.push(v);
  }
}

function styleAxis(g) {
  g.select(".domain").remove();
  g.selectAll(".tick line").attr("stroke", "#000").attr("stroke-width", 1);
}

const xBottom = svg.append("g")
  .attr("transform", `translate(0,${plot.bottom})`)
  .call(d3.axisBottom(x).tickValues(tickDates)
    .tickFormat((d, i) => xTickLabels[i])
    .tickSizeInner(-8).tickSizeOuter(0));
styleAxis(xBottom);
xBottom.attr("font-family", null).attr("font-size", null);
xBottom.selectAll(".tick text")
  .attr("y", 26.7).attr("dy", 0)
  .attr("font-size", 22)
  .attr("fill", "#000");

svg.append("g")
  .attr("transform", `translate(0,${plot.top})`)
  .call(d3.axisTop(x).tickValues(tickDates).tickFormat("").tickSizeInner(-8).tickSizeOuter(0))
  .call(styleAxis);

[[d3.axisLeft, plot.left], [d3.axisRight, plot.right]].forEach(([axisFn, pos]) => {
  svg.append("g")
    .attr("transform", `translate(${pos},0)`)
    .call(axisFn(y).tickValues(yTickValues).tickFormat("").tickSizeInner(-8).tickSizeOuter(0))
    .call(styleAxis);
  svg.append("g")
    .attr("transform", `translate(${pos},0)`)
    .call(axisFn(y).tickValues(minorTicks).tickFormat("").tickSizeInner(-4).tickSizeOuter(0))
    .call(styleAxis);
});

// frame
svg.append("rect")
  .attr("x", plot.left).attr("y", plot.top)
  .attr("width", plot.right - plot.left).attr("height", plot.bottom - plot.top)
  .attr("fill", "none").attr("stroke", "#1a1a1a").attr("stroke-width", 2);

// y tick labels as powers of ten
const yLabels = svg.append("g");
yTickValues.forEach((v, i) => {
  const t = yLabels.append("text")
    .attr("x", 75).attr("y", y(v) + 9)
    .attr("text-anchor", "end")
    .attr("font-size", 22);
  t.append("tspan").text("10");
  t.append("tspan").attr("dy", -9).attr("font-size", 14).text(yTickExponents[i]);
});

// axis titles
svg.append("text")
  .attr("x", (plot.left + plot.right) / 2).attr("y", 689)
  .attr("text-anchor", "middle").attr("font-size", 22)
  .text(xAxisTitle);

svg.append("text")
  .attr("transform", `translate(33,${(plot.top + plot.bottom) / 2}) rotate(-90)`)
  .attr("text-anchor", "middle").attr("font-size", 22)
  .text(yAxisTitle);

// ---- legend ----
const legend = svg.append("g");
legend.append("rect")
  .attr("x", 304.5).attr("y", 48.5).attr("width", 288).attr("height", 92)
  .attr("fill", "#fff").attr("stroke", "#000").attr("stroke-width", 1);

const rowBaselines = [76, 103.3, 130.5];
const sampleY = [65, 93.3, 125];
legend.append("line")
  .attr("x1", 315).attr("x2", 363).attr("y1", sampleY[0]).attr("y2", sampleY[0])
  .attr("stroke", "#0000ff").attr("stroke-width", 1);
legend.append("line")
  .attr("x1", 315).attr("x2", 363).attr("y1", sampleY[1]).attr("y2", sampleY[1])
  .attr("stroke", "#ff0000").attr("stroke-width", 2).attr("stroke-dasharray", "8,7");
legend.append("path")
  .attr("transform", `translate(339.3,${sampleY[2]})`)
  .attr("d", crossPath)
  .attr("fill", "none").attr("stroke", "#ff0000").attr("stroke-width", 1.1);

legendLabels.forEach((label, i) => {
  legend.append("text")
    .attr("x", 369).attr("y", rowBaselines[i])
    .attr("font-size", 22)
    .text(label);
});
</script>
</body>
</html>
